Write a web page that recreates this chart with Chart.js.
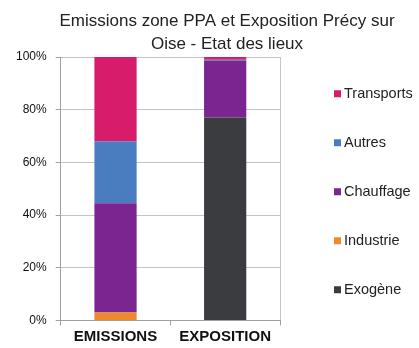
<!DOCTYPE html>
<html>
<head>
<meta charset="utf-8">
<script src="https://cdn.jsdelivr.net/npm/chart.js@4"></script>
<style>
  html, body { margin: 0; padding: 0; background: #fff; }
  #wrap { width: 419px; height: 348px; position: relative; }
</style>
</head>
<body>
<div id="wrap"><canvas id="chart"></canvas></div>
<script>
// Chart data
const categories = ['EMISSIONS', 'EXPOSITION'];
const exogene    = [0, 77];
const industrie  = [3, 0];
const chauffage  = [41.5, 21.6];
const autres     = [23.5, 0.4];
const transports = [32, 1];
const yTicks     = [0, 20, 40, 60, 80, 100];
const titleLines = ['Emissions zone PPA et Exposition Précy sur', 'Oise - Etat des lieux'];

const FONT = '"Liberation Sans", Arial, sans-serif';

// Title drawn over the whole picture (centred a bit right, like the original)
const titlePlugin = {
  id: 'titleText',
  afterDraw(chart) {
    const ctx = chart.ctx;
    ctx.save();
    ctx.font = '17px ' + FONT;
    ctx.fillStyle = '#222';
    ctx.textAlign = 'center';
    ctx.textBaseline = 'middle';
    titleLines.forEach((line, i) => ctx.fillText(line, 227, 21 + i * 23));
    ctx.restore();
  }
};

// Legend with wide spacing on the right, reversed order
const legendPlugin = {
  id: 'sideLegend',
  afterDraw(chart) {
    const ctx = chart.ctx;
    const area = chart.chartArea;
    const sets = chart.data.datasets.slice().reverse();
    const midY = (area.top + area.bottom) / 2 + 3;
    ctx.save();
    ctx.font = '14.5px ' + FONT;
    ctx.textBaseline = 'middle';
    sets.forEach((ds, i) => {
      const y = midY + (i - 2) * 49;
      const x = area.right + 54;
      ctx.fillStyle = ds.backgroundColor;
      ctx.fillRect(x, y - 3.5, 7, 7);
      ctx.fillStyle = '#222';
      ctx.fillText(ds.label, x + 10, y);
    });
    ctx.restore();
  }
};

new Chart(document.getElementById('chart'), {
  type: 'bar',
  data: {
    labels: categories,
    datasets: [
      { label: 'Exogène',    data: exogene,    backgroundColor: '#3b3c40' },
      { label: 'Industrie',  data: industrie,  backgroundColor: '#ef8a2c' },
      { label: 'Chauffage',  data: chauffage,  backgroundColor: '#7a2590' },
      { label: 'Autres',     data: autres,     backgroundColor: '#4a7cc0' },
      { label: 'Transports', data: transports, backgroundColor: '#d81c6c' }
    ]
  },
  options: {
    responsive: true,
    maintainAspectRatio: false,
    animation: false,
    datasets: {
      bar: { categoryPercentage: 1, barPercentage: 0.385, borderWidth: 0 }
    },
    layout: { padding: { top: 57, right: 139, left: 7, bottom: 0 } },
    plugins: {
      legend: { display: false },
      title: { display: false },
      tooltip: { enabled: false }
    },
    scales: {
      x: {
        stacked: true,
        grid: {
          color: ctx => ctx.index === 1 ? 'rgba(0,0,0,0)' : '#c4c4c4',
          tickColor: '#a0a0a0',
          tickLength: 5
        },
        border: { color: '#a0a0a0' },
        ticks: {
          color: '#111',
          padding: 3,
          font: { family: FONT, size: 15, weight: 'bold', lineHeight: 1.1 }
        }
      },
      y: {
        stacked: true,
        min: 0,
        max: 100,
        afterBuildTicks: axis => { axis.ticks = yTicks.map(v => ({ value: v })); },
        grid: { color: '#c4c4c4', tickColor: '#a0a0a0', tickLength: 5 },
        border: { color: '#a0a0a0' },
        ticks: {
          color: '#111',
          padding: 9,
          font: { family: FONT, size: 12 },
          callback: v => v + '%'
        }
      }
    }
  },
  plugins: [titlePlugin, legendPlugin]
});
</script>
</body>
</html>
